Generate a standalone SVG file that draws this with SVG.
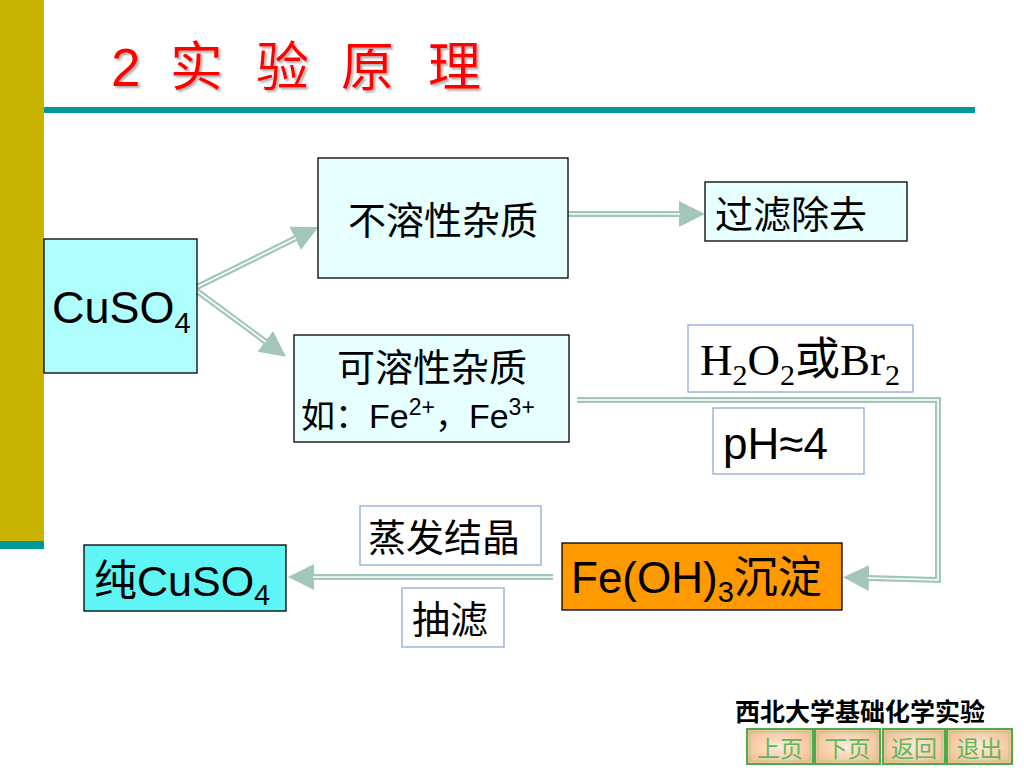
<svg xmlns="http://www.w3.org/2000/svg" width="1024" height="768" viewBox="0 0 1024 768">
<defs>
<style>
.cjk{font-family:"Liberation Sans","Noto Sans CJK SC",sans-serif;fill:#000}
.ser{font-family:"Liberation Serif","Noto Sans CJK SC",serif;fill:#000}
.box{stroke:#000;stroke-width:1.3}
.lbl{fill:#fff;stroke:#8EA9DB;stroke-width:1.3}
.outer{fill:none;stroke:#A3C6BA;stroke-width:6}
.inner{fill:none;stroke:#fff;stroke-width:1.6}
.btn{fill:url(#peach);stroke:#4DAA4D;stroke-width:2}
.btnin{fill:none;stroke:#9ED29E;stroke-width:1}
.btxt{font-family:"Noto Sans CJK SC",sans-serif;font-size:23px;fill:#5DB85D}
</style>
<marker id="ah" markerUnits="userSpaceOnUse" markerWidth="30" markerHeight="30" refX="1" refY="13" orient="auto" viewBox="0 0 30 26">
<polygon points="0,0 26,13 0,26" fill="#A3C6BA"/>
</marker>
<radialGradient id="peach" cx="0.5" cy="0.5" r="0.6">
<stop offset="0" stop-color="#FDEBDA"/>
<stop offset="1" stop-color="#F6BC8E"/>
</radialGradient>
<filter id="sh" x="-10%" y="-10%" width="130%" height="130%">
<feDropShadow dx="2" dy="2" stdDeviation="1" flood-color="#999" flood-opacity="0.8"/>
</filter>
</defs>
<rect width="1024" height="768" fill="#fff"/>
<g id="decor">
<rect x="0" y="0" width="44" height="541" fill="#C8B400"/>
<rect x="0" y="541" width="44" height="8" fill="#009999"/>
<rect x="44" y="107" width="931" height="6" fill="#009999"/>
</g>
<g id="title">
<text y="86" font-family="Liberation Sans,'Noto Sans CJK SC',sans-serif" font-size="53" fill="#FF0000" filter="url(#sh)"><tspan x="111">2</tspan><tspan x="170" font-family="'Noto Sans CJK SC',sans-serif">实</tspan><tspan x="256" font-family="'Noto Sans CJK SC',sans-serif">验</tspan><tspan x="341" font-family="'Noto Sans CJK SC',sans-serif">原</tspan><tspan x="428" font-family="'Noto Sans CJK SC',sans-serif">理</tspan></text>
</g>
<g id="connectors">
<path class="outer" d="M197,287 L296,238" marker-end="url(#ah)"/>
<path class="inner" d="M197,287 L296,238"/>
<path class="outer" d="M197,291 L266,342" marker-end="url(#ah)"/>
<path class="inner" d="M197,291 L266,342"/>
<path class="outer" d="M568,214 L680,214" marker-end="url(#ah)"/>
<path class="inner" d="M568,214 L680,214"/>
<path class="outer" d="M577,400 L938,400 L938,580 L868,578" marker-end="url(#ah)"/>
<path class="inner" d="M577,400 L938,400 L938,580 L868,578"/>
<path class="outer" d="M553,577 L313,577" marker-end="url(#ah)"/>
<path class="inner" d="M553,577 L313,577"/>
</g>
<g id="cuso4">
<rect class="box" x="44" y="239" width="153" height="134" fill="#AFFFFF"/>
<text class="cjk" x="52" y="323" font-size="45">CuSO<tspan font-size="29" dy="10">4</tspan></text>
</g>
<g id="insoluble">
<rect class="box" x="318" y="158" width="250" height="120" fill="#E6FFFF"/>
<text class="cjk" x="443" y="234" font-size="38" text-anchor="middle">不溶性杂质</text>
</g>
<g id="filter-remove">
<rect class="box" x="705" y="182" width="202" height="59" fill="#E6FFFF"/>
<text class="cjk" x="715" y="228" font-size="38">过滤除去</text>
</g>
<g id="soluble">
<rect class="box" x="294" y="335" width="275" height="107" fill="#E6FFFF"/>
<text class="cjk" x="432" y="381" font-size="38" text-anchor="middle">可溶性杂质</text>
<text class="cjk" x="301" y="428" font-size="34">如：Fe<tspan font-size="23" dy="-13">2+</tspan><tspan dy="13">，Fe</tspan><tspan font-size="23" dy="-13">3+</tspan></text>
</g>
<g id="oxidant">
<rect class="lbl" x="688" y="325" width="225" height="67"/>
<text class="ser" x="700" y="375" font-size="45">H<tspan font-size="30" dy="10">2</tspan><tspan dy="-10">O</tspan><tspan font-size="30" dy="10">2</tspan><tspan dy="-10" font-family="'Noto Sans CJK SC',serif">或</tspan><tspan dy="0">Br</tspan><tspan font-size="30" dy="10">2</tspan></text>
</g>
<g id="ph">
<rect class="lbl" x="713" y="408" width="151" height="66"/>
<text class="cjk" x="723" y="459" font-size="44">pH≈4</text>
</g>
<g id="feoh3">
<rect class="box" x="562" y="543" width="280" height="67" fill="#FF9900"/>
<text class="cjk" x="571" y="593" font-size="44">Fe(OH)<tspan font-size="29" dy="9">3</tspan><tspan dy="-9">沉淀</tspan></text>
</g>
<g id="evap">
<rect class="lbl" x="360" y="506" width="181" height="59"/>
<text class="cjk" x="368" y="551" font-size="38">蒸发结晶</text>
</g>
<g id="suction">
<rect class="lbl" x="402" y="588" width="102" height="59"/>
<text class="cjk" x="412" y="633" font-size="38">抽滤</text>
</g>
<g id="pure">
<rect class="box" x="84" y="545" width="202" height="66" fill="#5FF5F5"/>
<text class="cjk" x="94" y="596" font-size="43">纯CuSO<tspan font-size="29" dy="9">4</tspan></text>
</g>
<g id="footer">
<text x="735" y="721" font-family="'Noto Sans CJK SC',serif" font-weight="bold" font-size="25" fill="#000">西北大学基础化学实验</text>
</g>
<g id="btn-prev">
<rect class="btn" x="747" y="729" width="66" height="35"/>
<rect class="btnin" x="750" y="732" width="60" height="29"/>
<text class="btxt" x="780" y="757" text-anchor="middle">上页</text>
</g>
<g id="btn-next">
<rect class="btn" x="815" y="729" width="65" height="35"/>
<rect class="btnin" x="818" y="732" width="59" height="29"/>
<text class="btxt" x="847.5" y="757" text-anchor="middle">下页</text>
</g>
<g id="btn-back">
<rect class="btn" x="883" y="729" width="62" height="35"/>
<rect class="btnin" x="886" y="732" width="56" height="29"/>
<text class="btxt" x="914" y="757" text-anchor="middle">返回</text>
</g>
<g id="btn-exit">
<rect class="btn" x="947" y="729" width="65" height="35"/>
<rect class="btnin" x="950" y="732" width="59" height="29"/>
<text class="btxt" x="979.5" y="757" text-anchor="middle">退出</text>
</g>
</svg>
